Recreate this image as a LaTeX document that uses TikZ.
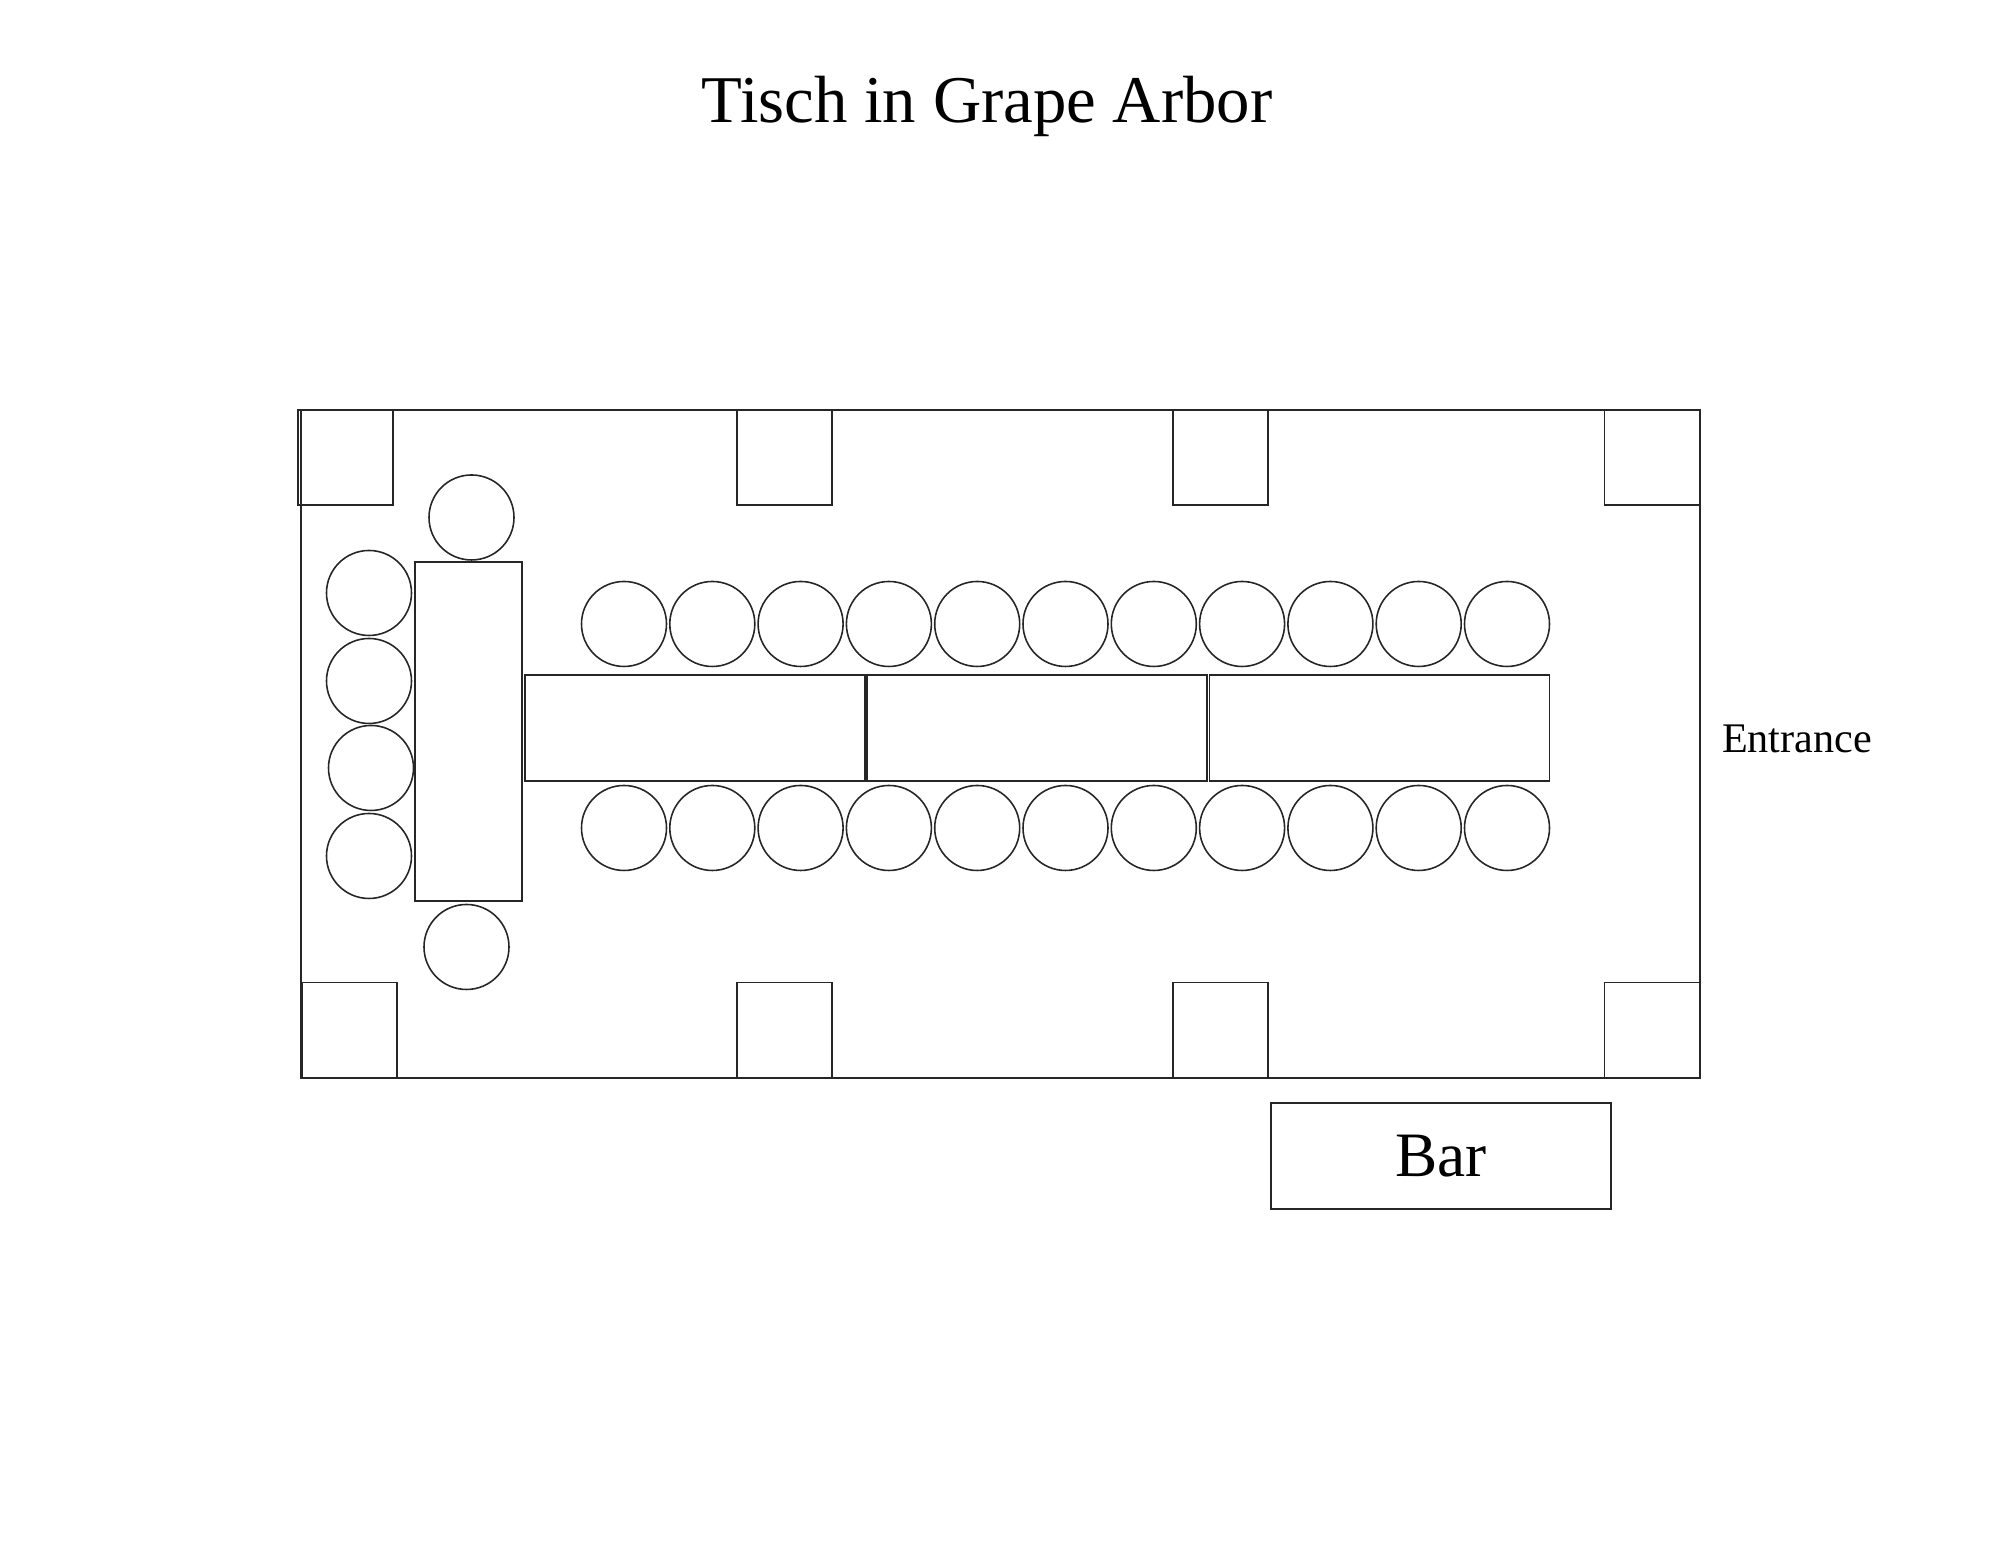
\documentclass[tikz,border=0pt]{standalone}
\usepackage{fontspec}
\setmainfont{Liberation Serif}
\usepackage{tikz}
\usetikzlibrary{positioning}
\pgfdeclarelayer{nodelayer}
\pgfdeclarelayer{edgelayer}
\pgfsetlayers{nodelayer,edgelayer,main}
\tikzset{
    none/.style = {inner sep=0pt},
    pillar/.style = {draw=black!85, line width=0.45pt, minimum width=0.95cm, minimum height=0.95cm, inner sep=0pt},
    seat/.style = {circle, draw=black!85, line width=0.45pt, minimum size=0.85cm, inner sep=0pt},
    longtable/.style = {draw=black!85, line width=0.45pt, minimum width=3.4cm, minimum height=1.06cm, inner sep=0pt},
    headtable/.style = {draw=black!85, line width=0.45pt, minimum width=1.07cm, minimum height=3.39cm, inner sep=0pt},
    room/.style = {draw=black!85, line width=0.45pt}
}

\begin{document}
\begin{tikzpicture}
  \useasboundingbox (0, 0) rectangle (20, 15.45);
  \begin{pgfonlayer}{nodelayer}
    \node [style=none, anchor=base, font=\fontsize{19}{23}\selectfont] (title) at (9.87, 14.22) {Tisch in Grape Arbor};
    \coordinate (r0) at (3.01, 11.35);
    \coordinate (r1) at (17.00, 4.67);
    \node [style=pillar] (p0) at (3.455, 10.875) {};
    \node [style=pillar] (p1) at (7.845, 10.875) {};
    \node [style=pillar] (p2) at (12.205, 10.875) {};
    \node [style=pillar] (p3) at (16.52, 10.875) {};
    \node [style=pillar] (p4) at (3.495, 5.15) {};
    \node [style=pillar] (p5) at (7.845, 5.15) {};
    \node [style=pillar] (p6) at (12.205, 5.15) {};
    \node [style=pillar] (p7) at (16.52, 5.15) {};
    \node [style=headtable] (h) at (4.685, 8.135) {};
    \node [style=seat] (h0) at (4.715, 10.275) {};
    \node [style=seat] (h1) at (3.69, 9.52) {};
    \node [style=seat] (h2) at (3.69, 8.64) {};
    \node [style=seat] (h3) at (3.71, 7.77) {};
    \node [style=seat] (h4) at (3.69, 6.89) {};
    \node [style=seat] (h5) at (4.665, 5.98) {};
    \node [style=longtable] (t0) at (6.95, 8.17) {};
    \node [style=longtable] (t1) at (10.37, 8.17) {};
    \node [style=longtable] (t2) at (13.795, 8.17) {};
    \foreach \i in {0,...,10} {
      \node [style=seat] (a\i) at (6.24 + 0.883*\i, 9.21) {};
      \node [style=seat] (b\i) at (6.24 + 0.883*\i, 7.17) {};
    }
    \node [style=none, font=\fontsize{12}{14}\selectfont] (entrance) at (17.97, 8.06) {Entrance};
    \node [style=longtable] (bar) at (14.41, 3.89) {};
    \node [style=none, font=\fontsize{18}{22}\selectfont] (barlabel) at (bar.center) {Bar};
  \end{pgfonlayer}
  \begin{pgfonlayer}{edgelayer}
    \draw [style=room] (r0) rectangle (r1);
  \end{pgfonlayer}
\end{tikzpicture}
\end{document}
